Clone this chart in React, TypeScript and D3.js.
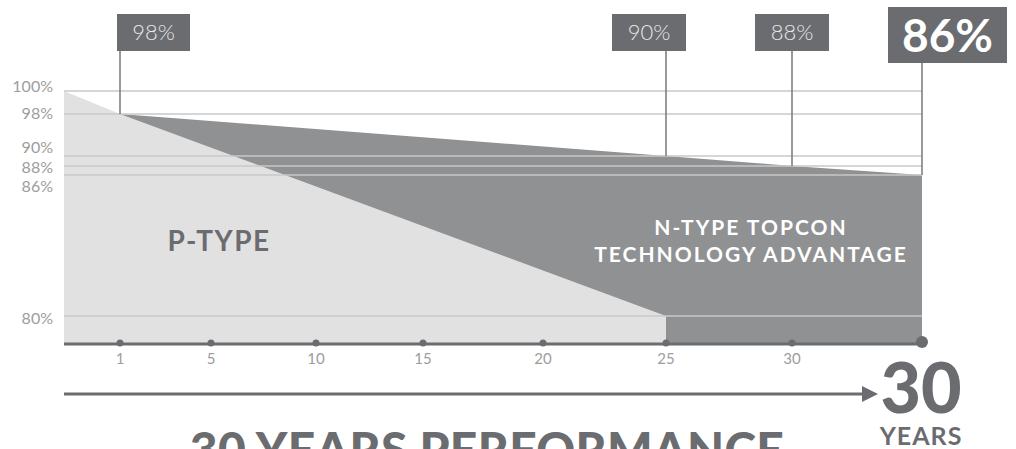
import { useEffect, useRef } from "react";
import * as d3 from "d3";

// axis stops (years); the last stop is the "30 years" end marker
const tickYears = [1, 5, 10, 15, 20, 25, 30];
const endYear = 34;

const gridValues = [100, 98, 90, 88, 86, 80];
const gridLabels = ["100%", "98%", "90%", "88%", "86%", "80%"];

const pTypeYears = [0, 1, 25];
const pTypeValues = [100, 98, 80];

const nTypeYears = [1, 25, 30, endYear];
const nTypeValues = [98, 90, 88, 86];

const calloutLabels = ["98%", "90%", "88%", "86%"];

export default function App() {
  const ref = useRef<SVGSVGElement | null>(null);

  useEffect(() => {
    if (!ref.current) return;
    const svg = d3.select(ref.current);
    svg.selectAll("*").remove();

    const dark = "#6b6c70";
    const font = "Lato, 'Noto Sans', sans-serif";

    // infographic uses stretched, non-uniform scales
    const x = d3
      .scaleLinear()
      .domain([0, 1, 5, 10, 15, 20, 25, 30, endYear])
      .range([64, 120, 211, 316, 423, 543, 666, 792, 922]);
    const y = d3
      .scaleLinear()
      .domain([78, 80, 86, 88, 90, 98, 100])
      .range([344, 316, 175, 166, 156, 114, 91]);
    const base = 78;

    const g = svg.append("g");

    // MARK: areas
    const nPts: [number, number][] = nTypeYears.map((yr, i) => [yr, nTypeValues[i]]);
    const area = d3
      .area<[number, number]>()
      .x((d) => x(d[0]))
      .y0(y(base))
      .y1((d) => y(d[1]));

    g.append("path").attr("d", area(nPts) || "").attr("fill", "#909193");

    const pPts: [number, number][] = pTypeYears.map((yr, i) => [yr, pTypeValues[i]]);
    pPts.push([pTypeYears[pTypeYears.length - 1], base]);
    pPts.push([pTypeYears[0], base]);
    const poly = d3
      .line<[number, number]>()
      .x((d) => x(d[0]))
      .y((d) => y(d[1]));
    g.append("path").attr("d", (poly(pPts) || "") + "Z").attr("fill", "#e1e1e1");

    // MARK: gridlines + y labels
    const labelShift = [-5, -1, -9, 1, 11, 2];
    gridValues.forEach((v, i) => {
      g.append("line")
        .attr("x1", x(0))
        .attr("x2", x(endYear))
        .attr("y1", y(v))
        .attr("y2", y(v))
        .attr("stroke", "#c8c8c8")
        .attr("stroke-width", 1.5);
      g.append("text")
        .attr("x", 53)
        .attr("y", y(v) + labelShift[i])
        .attr("dy", "0.35em")
        .attr("text-anchor", "end")
        .attr("font-family", font)
        .attr("font-weight", 400)
        .attr("font-size", 16)
        .attr("fill", "#9d9d9d")
        .text(gridLabels[i]);
    });

    // MARK: x axis
    g.append("line")
      .attr("x1", x(0))
      .attr("x2", x(endYear))
      .attr("y1", y(base))
      .attr("y2", y(base))
      .attr("stroke", dark)
      .attr("stroke-width", 3);
    tickYears.forEach((t) => {
      g.append("circle").attr("cx", x(t)).attr("cy", y(base) - 1).attr("r", 3.5).attr("fill", dark);
      g.append("text")
        .attr("x", x(t))
        .attr("y", 359)
        .attr("dy", "0.35em")
        .attr("text-anchor", "middle")
        .attr("font-family", font)
        .attr("font-weight", 400)
        .attr("font-size", 15)
        .attr("fill", "#9d9d9d")
        .text(t);
    });
    g.append("circle").attr("cx", x(endYear)).attr("cy", y(base) - 2).attr("r", 6).attr("fill", dark);

    // MARK: callouts
    const boxes = [
      { dx: -3, w: 73, top: 14, h: 37, size: 22, weight: 300 },
      { dx: -54, w: 74, top: 14, h: 37, size: 22, weight: 300 },
      { dx: -37, w: 74, top: 14, h: 37, size: 22, weight: 300 },
      { dx: -34, w: 119, top: 7, h: 56, size: 46, weight: 700 },
    ];
    nTypeYears.forEach((yr, i) => {
      const b = boxes[i];
      const cx = x(yr);
      g.append("line")
        .attr("x1", cx)
        .attr("x2", cx)
        .attr("y1", b.top + b.h)
        .attr("y2", y(nTypeValues[i]))
        .attr("stroke", "#77787b")
        .attr("stroke-width", 1.5);
      g.append("rect")
        .attr("x", cx + b.dx)
        .attr("y", b.top)
        .attr("width", b.w)
        .attr("height", b.h)
        .attr("fill", dark);
      g.append("text")
        .attr("x", cx + b.dx + b.w / 2)
        .attr("y", b.top + b.h / 2)
        .attr("dy", "0.36em")
        .attr("text-anchor", "middle")
        .attr("font-family", font)
        .attr("font-weight", b.weight)
        .attr("font-size", b.size)
        .attr("fill", b.weight > 400 ? "#ffffff" : "#e6e6e6")
        .text(calloutLabels[i]);
    });

    // MARK: area labels
    g.append("text")
      .attr("x", 219)
      .attr("y", 251)
      .attr("text-anchor", "middle")
      .attr("font-family", font)
      .attr("font-weight", 700)
      .attr("font-size", 28)
      .attr("letter-spacing", 1.5)
      .attr("fill", dark)
      .text("P-TYPE");
    ["N-TYPE TOPCON", "TECHNOLOGY ADVANTAGE"].forEach((s, i) => {
      g.append("text")
        .attr("x", 751)
        .attr("y", 235 + i * 27)
        .attr("text-anchor", "middle")
        .attr("font-family", font)
        .attr("font-weight", 700)
        .attr("font-size", 21)
        .attr("letter-spacing", 2)
        .attr("fill", "#ffffff")
        .text(s);
    });

    // MARK: arrow + 30 years
    g.append("line")
      .attr("x1", x(0))
      .attr("x2", 864)
      .attr("y1", 394)
      .attr("y2", 394)
      .attr("stroke", dark)
      .attr("stroke-width", 3);
    g.append("path").attr("d", "M862,386L878,394L862,402Z").attr("fill", dark);
    g.append("text")
      .attr("x", 921)
      .attr("y", 413)
      .attr("text-anchor", "middle")
      .attr("font-family", font)
      .attr("font-weight", 900)
      .attr("font-size", 70)
      .attr("fill", dark)
      .text("30");
    g.append("text")
      .attr("x", 921)
      .attr("y", 445)
      .attr("text-anchor", "middle")
      .attr("font-family", font)
      .attr("font-weight", 700)
      .attr("font-size", 25)
      .attr("letter-spacing", 1)
      .attr("fill", dark)
      .text("YEARS");

    g.append("text")
      .attr("x", 487)
      .attr("y", 467)
      .attr("text-anchor", "middle")
      .attr("font-family", font)
      .attr("font-weight", 900)
      .attr("font-size", 48)
      .attr("letter-spacing", 0.3)
      .attr("fill", dark)
      .text("30 YEARS PERFORMANCE");
  }, []);

  return (
    <svg
      ref={ref}
      width={1016}
      height={449}
      style={{ position: "absolute", left: 0, top: 0, background: "#fff" }}
    />
  );
}
